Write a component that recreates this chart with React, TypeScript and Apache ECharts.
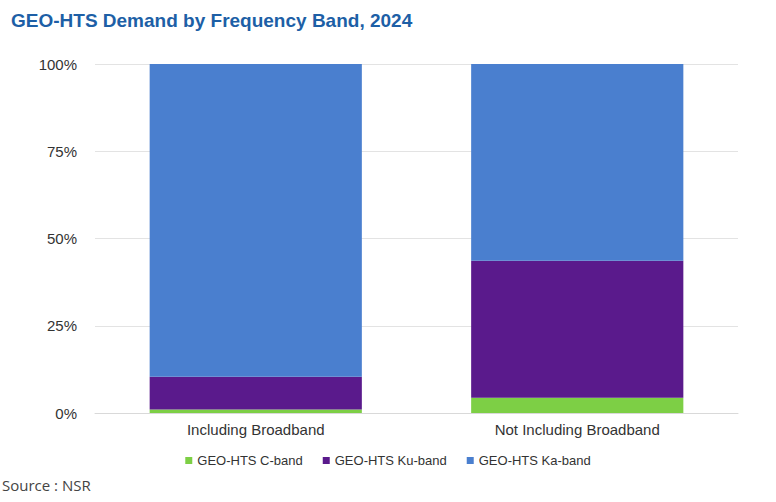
import React, { useEffect, useRef } from "react";
import * as echarts from "echarts";

const categories = ["Including Broadband", "Not Including Broadband"];
const cBand = [1.0, 4.4];
const kuBand = [9.4, 39.2];
const kaBand = [89.6, 56.4];
const seriesNames = ["GEO-HTS C-band", "GEO-HTS Ku-band", "GEO-HTS Ka-band"];
const colors = ["#7dcf45", "#5a1a8c", "#4a7fcf"];

export default function App() {
  const ref = useRef<HTMLDivElement>(null);
  useEffect(() => {
    document.body.style.margin = "0";
    const chart = echarts.init(ref.current!, null, { renderer: "svg" });
    const font = "Arial, 'Liberation Sans', sans-serif";
    const data = [cBand, kuBand, kaBand];
    chart.setOption({
      animation: false,
      textStyle: { fontFamily: font },
      title: {
        text: "GEO-HTS Demand by Frequency Band, 2024",
        left: 6, top: 6,
        textStyle: { color: "#1d5fa6", fontSize: 19, fontWeight: "bold", fontFamily: font },
      },
      graphic: [{ type: "text", left: 2, top: 477, style: { text: "Source : NSR", fill: "#444", fontSize: 15, fontFamily: "'Open Sans', sans-serif" } }],
      legend: {
        bottom: 30, left: "center", itemWidth: 7, itemHeight: 7, itemGap: 20,
        icon: "rect",
        textStyle: { color: "#333", fontSize: 13 },
        data: seriesNames,
      },
      grid: { left: 95, right: 38, top: 64, bottom: 89 },
      xAxis: {
        type: "category", data: categories,
        axisLine: { lineStyle: { color: "#d9d9d9" } },
        axisTick: { show: false },
        axisLabel: { color: "#333", fontSize: 15, margin: 9 },
      },
      yAxis: {
        type: "value", min: 0, max: 100, interval: 25,
        axisLabel: { formatter: "{value}%", color: "#333", fontSize: 15, margin: 18 },
        splitLine: { lineStyle: { color: "#e3e3e3" } },
        axisLine: { show: false },
      },
      series: seriesNames.map((n, i) => ({
        name: n, type: "bar", stack: "t", data: data[i], barWidth: "66%",
        itemStyle: { color: colors[i] },
      })),
    });
    return () => chart.dispose();
  }, []);
  return <div ref={ref} style={{ width: 776, height: 502 }} />;
}
